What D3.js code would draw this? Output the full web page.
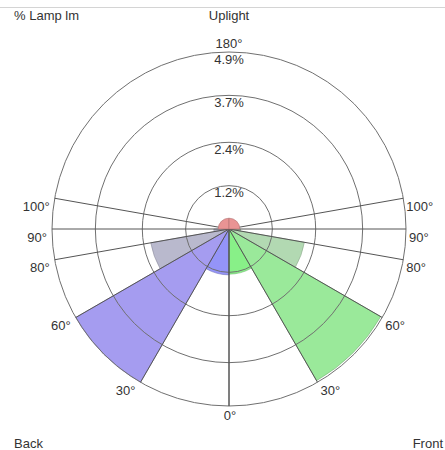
<!DOCTYPE html>
<html>
<head>
<meta charset="utf-8">
<script src="https://cdn.jsdelivr.net/npm/d3@7"></script>
<style>
  html, body { margin: 0; padding: 0; background: #fff; }
  svg { display: block; }
  text { font-family: "Liberation Sans", Arial, sans-serif; font-size: 13px; fill: #333; }
</style>
</head>
<body>
<svg id="chart" width="445" height="450"></svg>
<script>
// ---- data ----
const binStart = [0, 30, 60, 80, 90];          // degrees from nadir
const binEnd   = [30, 60, 80, 90, 180];
const backValues  = [1.27, 4.9, 2.2, 0.42, 0.3];   // % lamp lm
const frontValues = [1.25, 4.85, 2.12, 0.32, 0.3];
const backColors  = ["#9494f8", "#a59cf0", "#b9b9cd", "#b9b9cd", "#e99494"];
const frontColors = ["#88f088", "#9ae99a", "#b2d9b2", "#b2d9b2", "#e99494"];
const ringValues = [1.2, 2.4, 3.7, 4.9];
const ringLabels = ["1.2%", "2.4%", "3.7%", "4.9%"];
const spokeAngles = [0, 30, 60, 80, 90, 100];
const angleLabelAngles = [0, 30, 60, 80, 90, 100, 180];
const angleLabels = ["0°", "30°", "60°", "80°", "90°", "100°", "180°"];

// ---- layout ----
const cx = 229, cy = 229, R = 177;
const svg = d3.select("#chart");
const r = d3.scaleLinear().domain([0, 4.9]).range([0, R]);
const rad = d => d * Math.PI / 180;
const pt = (theta, rr, side) => [cx + side * Math.sin(rad(theta)) * rr, cy + Math.cos(rad(theta)) * rr];

svg.append("line").attr("x1", 0).attr("x2", 445).attr("y1", 7.5).attr("y2", 7.5)
  .attr("stroke", "#d4d4d4").attr("stroke-width", 1);

const g = svg.append("g").attr("transform", `translate(${cx},${cy})`);
const arc = d3.arc().innerRadius(0);
function darker(c) { return d3.color(c).darker(0.8).formatHex(); }

function drawWedge(i) {
  const s = binStart[i], e = binEnd[i];
  g.append("path")
    .attr("d", arc({outerRadius: r(backValues[i]), startAngle: Math.PI + rad(s), endAngle: Math.PI + rad(e)}))
    .attr("fill", backColors[i]).attr("stroke", darker(backColors[i])).attr("stroke-width", 0.8).attr("stroke-opacity", 0.7);
  g.append("path")
    .attr("d", arc({outerRadius: r(frontValues[i]), startAngle: Math.PI - rad(e), endAngle: Math.PI - rad(s)}))
    .attr("fill", frontColors[i]).attr("stroke", darker(frontColors[i])).attr("stroke-width", 0.8).attr("stroke-opacity", 0.7);
}
// downlight wedges under the grid
binStart.forEach((s, i) => { if (s < 90) drawWedge(i); });

// grid rings
g.selectAll("circle.ring").data(ringValues).enter().append("circle")
  .attr("class", "ring").attr("r", d => r(d))
  .attr("fill", "none").attr("stroke", "#707070").attr("stroke-width", 1);

// spokes
[-1, 1].forEach(side => {
  spokeAngles.forEach(a => {
    const [x, y] = pt(a, R, side);
    g.append("line").attr("x1", 0).attr("y1", 0).attr("x2", x - cx).attr("y2", y - cy)
      .attr("stroke", "#555").attr("stroke-width", 1);
  });
});

// uplight wedges on top
binStart.forEach((s, i) => { if (s >= 90) drawWedge(i); });

// ring labels
ringValues.forEach((v, i) => {
  svg.append("text").attr("x", cx).attr("y", cy - r(v) + 11.5)
    .attr("text-anchor", "middle").text(ringLabels[i]);
});

// angle labels
angleLabelAngles.forEach((a, i) => {
  if (a === 0) {
    const [x, y] = pt(a, R, 1);
    svg.append("text").attr("x", x + 1).attr("y", y + 13.5).attr("text-anchor", "middle").text(angleLabels[i]);
  } else if (a === 180) {
    const [x, y] = pt(a, R, 1);
    svg.append("text").attr("x", x).attr("y", y - 4).attr("text-anchor", "middle").text(angleLabels[i]);
  } else {
    const [xl, yl] = pt(a, R, -1);
    svg.append("text").attr("x", xl - 5).attr("y", yl + 12.5).attr("text-anchor", "end").text(angleLabels[i]);
    const [xr, yr] = pt(a, R, 1);
    svg.append("text").attr("x", xr + 3).attr("y", yr + 12.5).attr("text-anchor", "start").text(angleLabels[i]);
  }
});

// titles
svg.append("text").attr("x", 14).attr("y", 19.5).text("% Lamp lm");
svg.append("text").attr("x", cx).attr("y", 19.5).attr("text-anchor", "middle").text("Uplight");
svg.append("text").attr("x", 14).attr("y", 447.5).text("Back");
svg.append("text").attr("x", 443).attr("y", 447.5).attr("text-anchor", "end").text("Front");
</script>
</body>
</html>
